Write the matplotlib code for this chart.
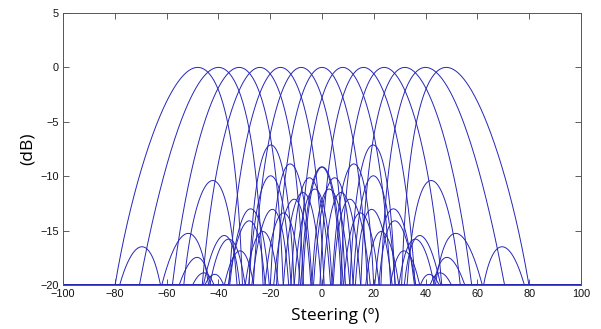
import numpy as np
import matplotlib
matplotlib.use("Agg")
import matplotlib.pyplot as plt

# ---- data ----
beam_peak_deg = [-48, -40, -32, -24, -16, -8, 0, 8, 16, 24, 32, 40, 48]
x_ticks = [-100, -80, -60, -40, -20, 0, 20, 40, 60, 80, 100]
y_ticks = [-20, -15, -10, -5, 0, 5]
floor_db = -20
n_elements = 6
spacing_wl = 0.5
element_exp = 1.5

theta = np.linspace(-100, 100, 4001)
th = np.radians(np.clip(theta, -90, 90))


def beam_db(steer_deg):
    psi = 2 * np.pi * spacing_wl * (np.sin(th) - np.sin(np.radians(steer_deg)))
    den = n_elements * np.sin(psi / 2)
    small = np.abs(den) < 1e-9
    af = np.where(small, 1.0, np.sin(n_elements * psi / 2) / np.where(small, 1, den))
    p = np.abs(af * np.cos(th) ** element_exp) + 1e-12
    db = 20 * np.log10(p / p.max())
    db = np.where(np.abs(theta) > 90, floor_db, db)
    return db


def steer_for_peak(target):
    s = float(target)
    for _ in range(6):
        pk = theta[np.argmax(beam_db(s))]
        s = np.clip(s + (target - pk), -89, 89)
    return s


fig = plt.figure(figsize=(6.01, 3.29), dpi=100)
ax = fig.add_axes([63 / 601, 1 - 285 / 329, (581 - 63) / 601, (285 - 13) / 329])

for t in beam_peak_deg:
    y = np.maximum(beam_db(steer_for_peak(t)), floor_db)
    ax.plot(theta, y, color=(0.15, 0.15, 0.72), lw=0.7)

ax.set_xlim(-100, 100)
ax.set_ylim(-20, 5)
ax.set_xticks(x_ticks)
ax.set_yticks(y_ticks)
ax.tick_params(direction='in', top=True, right=True, length=4, width=0.6,
               labelsize=7.8, colors='#444444', labelcolor='#111111')
ax.tick_params(axis='x', pad=3.2)
ax.tick_params(axis='y', pad=3.0)
for lab in ax.get_xticklabels() + ax.get_yticklabels():
    lab.set_fontfamily('Liberation Sans')
for sp in ax.spines.values():
    sp.set_color('#555555')
    sp.set_linewidth(0.7)

ax.set_xlabel('Steering (º)', fontsize=12.5, family='Open Sans', va='top')
ax.xaxis.set_label_coords(0.525, -0.085)
ax.set_ylabel('(dB)', fontsize=12.5, family='Open Sans', va='center')
ax.yaxis.set_label_coords(-0.068, 0.5)

fig.savefig("out.png", dpi=100)
